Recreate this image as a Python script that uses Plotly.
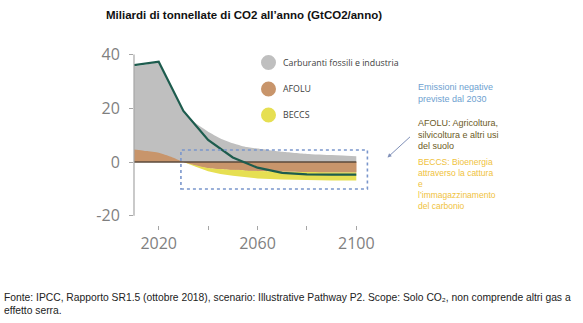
import plotly.graph_objects as go

# ---------------- data ----------------
years = [2010, 2015, 2020, 2025, 2030, 2035, 2040, 2045, 2050, 2055, 2060, 2070, 2080, 2090, 2100]
fossil = [35.5, 36.3, 37.0, 28.0, 19.0, 14.4, 11.3, 8.8, 7.0, 5.7, 5.0, 3.8, 3.0, 2.6, 2.2]
afolu = [4.7, 4.1, 3.5, 2.0, 0.0, -1.2, -2.2, -2.6, -2.9, -3.1, -3.3, -3.5, -3.7, -3.8, -3.8]
beccs_bottom = [0.0, -1.7, -3.4, -4.4, -5.1, -5.7, -6.1, -6.5, -6.8, -6.9, -6.9]  # from 2030
net_years = [2010, 2020, 2030, 2040, 2050, 2060, 2070, 2080, 2090, 2100]
net = [36.0, 37.3, 19.0, 8.2, 1.7, -2.1, -4.0, -4.6, -4.7, -4.7]

box_years = [2029, 2104.5]
box_values = [4.5, -10]

y_ticks = [40, 20, 0, -20]
y_ticktext = ["40", "20", "0", "-20"]
x_ticks = [2020, 2040, 2060, 2080, 2100]
x_ticktext = ["2020", "", "2060", "", "2100"]

legend_labels = ["Carburanti fossili e industria", "AFOLU", "BECCS"]
title = "Miliardi di tonnellate di CO2 all\u2019anno (GtCO2/anno)"
footer = ("Fonte: IPCC, Rapporto SR1.5 (ottobre 2018), scenario: Illustrative Pathway P2. "
          "Scope: Solo CO\u2082, non comprende altri gas a<br>effetto serra.")
note_neg = "Emissioni negative<br>previste dal 2030"
note_afolu = "AFOLU: Agricoltura,<br>silvicoltura e altri usi<br>del suolo"
note_beccs = "BECCS: Bioenergia<br>attraverso la cattura<br>e<br>l\u2019immagazzinamento<br>del carbonio"

# ---------------- colours ----------------
C_GREY = "#bfbfbf"
C_BROWN = "#c8956b"
C_YELLOW = "#e6df52"
C_LINE = "#1d5c4e"
C_ZERO = "#5b4a3b"
C_AXIS = "#a6a6a6"
C_TICKTXT = "#7f7f7f"

# ---------------- layout geometry ----------------
W, H = 583, 323
L, R, T, B = 134, 202, 41, 98
PW, PH = W - L - R, H - T - B


def px(x):
    return (x - L) / PW


def py(y):
    return (H - B - y) / PH


fig = go.Figure()

# grey fossil area
fig.add_trace(go.Scatter(x=years, y=fossil, mode="lines", line=dict(width=0, shape="spline", smoothing=0.4),
                         fill="tozeroy", fillcolor=C_GREY, hoverinfo="skip", showlegend=False))
# brown AFOLU
fig.add_trace(go.Scatter(x=years, y=afolu, mode="lines", line=dict(width=0, shape="spline", smoothing=0.4),
                         fill="tozeroy", fillcolor=C_BROWN, hoverinfo="skip", showlegend=False))
# yellow BECCS polygon (from 2030)
neg_years = years[4:]
neg_afolu = afolu[4:]
poly_x = neg_years + neg_years[::-1]
poly_y = neg_afolu + beccs_bottom[::-1]
fig.add_trace(go.Scatter(x=poly_x, y=poly_y, mode="lines", line=dict(width=0),
                         fill="toself", fillcolor=C_YELLOW, hoverinfo="skip", showlegend=False))
# brown AFOLU again (on top, to hide polygon edge)
fig.add_trace(go.Scatter(x=neg_years, y=neg_afolu, mode="lines", line=dict(width=0, shape="spline", smoothing=0.4),
                         fill="tozeroy", fillcolor=C_BROWN, hoverinfo="skip", showlegend=False))
# zero line
fig.add_trace(go.Scatter(x=[years[0], years[-1]], y=[0, 0], mode="lines",
                         line=dict(color=C_ZERO, width=1.5), hoverinfo="skip", showlegend=False))
# net emissions line
fig.add_trace(go.Scatter(x=net_years, y=net, mode="lines", line=dict(color=C_LINE, width=2.2),
                         hoverinfo="skip", showlegend=False))

shapes = []
# y axis line from -20 to 40
shapes.append(dict(type="line", xref="paper", yref="y", x0=0, x1=0, y0=min(y_ticks), y1=max(y_ticks),
                   line=dict(color=C_AXIS, width=1.2)))
# dotted box
shapes.append(dict(type="rect", xref="x", yref="y", x0=box_years[0], x1=box_years[1],
                   y0=box_values[1], y1=box_values[0], line=dict(color="#7a96cc", width=1.6, dash="dot")))
# legend circles
legend_cols = [C_GREY, C_BROWN, C_YELLOW]
legend_y_pix = [62.5, 89, 115]
legend_x_pix = 268.5
for col, yp in zip(legend_cols, legend_y_pix):
    shapes.append(dict(type="circle", xref="paper", yref="paper", xsizemode="pixel", ysizemode="pixel",
                       xanchor=px(legend_x_pix), yanchor=py(yp), x0=-7.5, x1=7.5, y0=-7.5, y1=7.5,
                       fillcolor=col, line=dict(width=0)))

annotations = []
for lab, yp in zip(legend_labels, legend_y_pix):
    annotations.append(dict(text=lab, xref="paper", yref="paper", x=px(281), y=py(yp), xanchor="left",
                            yanchor="middle", showarrow=False,
                            font=dict(family="Open Sans", size=8.8, color="#404040")))

annotations.append(dict(text=title, xref="paper", yref="paper", x=px(104), y=py(15), xanchor="left",
                        yanchor="middle", showarrow=False,
                        font=dict(family="Liberation Sans", size=11.5, color="#111111", weight="bold")))
annotations.append(dict(text=footer, xref="paper", yref="paper", x=px(2), y=py(290), xanchor="left",
                        yanchor="top", align="left", showarrow=False,
                        font=dict(family="Liberation Sans", size=10.3, color="#222222")))
annotations.append(dict(text=note_neg, xref="paper", yref="paper", x=px(416), y=py(80), xanchor="left",
                        yanchor="top", align="left", showarrow=False,
                        font=dict(family="Liberation Sans", size=9, color="#6e9fd0")))
annotations.append(dict(text=note_afolu, xref="paper", yref="paper", x=px(416), y=py(116), xanchor="left",
                        yanchor="top", align="left", showarrow=False,
                        font=dict(family="Liberation Sans", size=9, color="#6b5a26")))
annotations.append(dict(text=note_beccs, xref="paper", yref="paper", x=px(416), y=py(155), xanchor="left",
                        yanchor="top", align="left", showarrow=False,
                        font=dict(family="Liberation Sans", size=8.5, color="#f0c23c")))
# small arrow
annotations.append(dict(text="", xref="paper", yref="paper", x=px(387.5), y=py(157.5), ax=24, ay=-22,
                        showarrow=True, arrowhead=2, arrowsize=0.8, arrowwidth=1, arrowcolor="#8090b8"))

fig.update_layout(
    width=W, height=H,
    margin=dict(l=L, r=R, t=T, b=B),
    paper_bgcolor="white", plot_bgcolor="white",
    shapes=shapes, annotations=annotations,
    xaxis=dict(range=[2010, 2110], tickvals=x_ticks, ticktext=x_ticktext, ticks="outside", ticklen=4,
               tickcolor=C_AXIS, tickwidth=1, showline=False, showgrid=False, zeroline=False,
               tickfont=dict(family="Open Sans", size=16, color=C_TICKTXT)),
    yaxis=dict(range=[-23.4, 45], tickvals=y_ticks, ticktext=y_ticktext, ticks="outside", ticklen=4,
               tickcolor=C_AXIS, tickwidth=1, showline=False, showgrid=False, zeroline=False,
               ticklabelstandoff=6, tickfont=dict(family="Open Sans", size=16, color=C_TICKTXT)),
    showlegend=False,
)

fig.write_html("out.html")
